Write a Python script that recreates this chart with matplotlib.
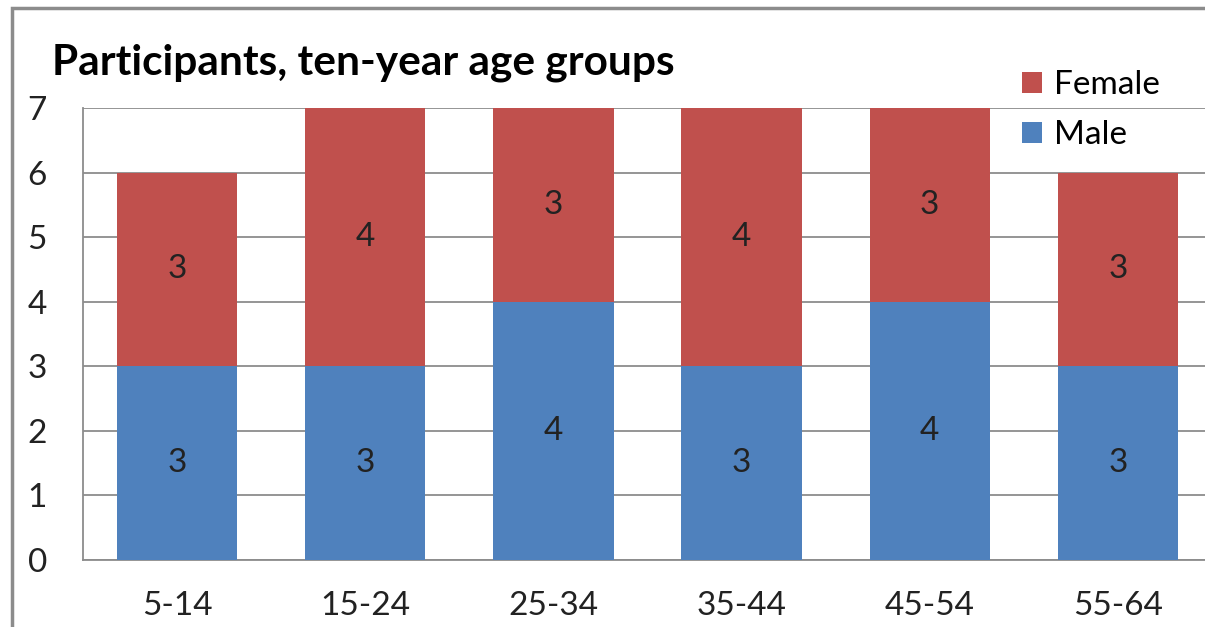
import numpy as np
import matplotlib.pyplot as plt
from matplotlib.patches import Rectangle

plt.rcParams['font.family'] = ['Lato', 'DejaVu Sans']

# Dados
groups = ["5-14", "15-24", "25-34", "35-44", "45-54", "55-64"]
male = [3, 3, 4, 3, 4, 3]
female = [3, 4, 3, 4, 3, 3]

W, H = 1205, 627
fig = plt.figure(figsize=(W / 100, H / 100), dpi=100)

# moldura cinza do gráfico (sai pela direita e por baixo)
fig.patches.append(Rectangle((12 / W, -0.05), 1.1, 1 - 8 / H + 0.05, transform=fig.transFigure,
                             fill=False, edgecolor='#8c8c8c', linewidth=2.5))

ax = fig.add_axes([83 / W, 1 - 560 / H, (1212 - 83) / W, 452 / H])
x = np.arange(len(groups))
b1 = ax.bar(x, male, width=0.64, color='#4F81BD', label='Male', zorder=3)
b2 = ax.bar(x, female, width=0.64, bottom=male, color='#C0504D', label='Female', zorder=3)

fs = 24
for i in range(len(groups)):
    ax.text(x[i], male[i] / 2, str(male[i]), ha='center', va='center', fontsize=fs, color='#222222', zorder=4)
    ax.text(x[i], male[i] + female[i] / 2, str(female[i]), ha='center', va='center', fontsize=fs,
            color='#222222', zorder=4)

ax.set_xlim(-0.5, 5.5)
ax.set_ylim(0, 7)
ax.set_yticks(range(8))
ax.set_xticks(x)
ax.set_xticklabels(groups)
ax.tick_params(axis='both', length=0, labelsize=fs, colors='#222222')
ax.tick_params(axis='y', pad=26)
ax.tick_params(axis='x', pad=22)
ax.yaxis.grid(True, color='#8c8c8c', linewidth=1.3, zorder=0)
for s in ['top', 'right']:
    ax.spines[s].set_visible(False)
for s in ['left', 'bottom']:
    ax.spines[s].set_color('#8c8c8c')
    ax.spines[s].set_linewidth(1.3)

fig.text(52 / W, 1 - 75 / H, "Participants, ten-year age groups", fontsize=30.5, fontweight='bold',
         va='baseline', ha='left', color='black')

fig.legend(handles=[b2, b1], labels=['Female', 'Male'], loc='center left',
           bbox_to_anchor=(1022 / W, 1 - 110 / H), frameon=False, fontsize=fs, borderpad=0,
           borderaxespad=0, handlelength=0.6, handleheight=0.6, handletextpad=0.35,
           labelspacing=0.6)

plt.savefig("out.png", dpi=100)
